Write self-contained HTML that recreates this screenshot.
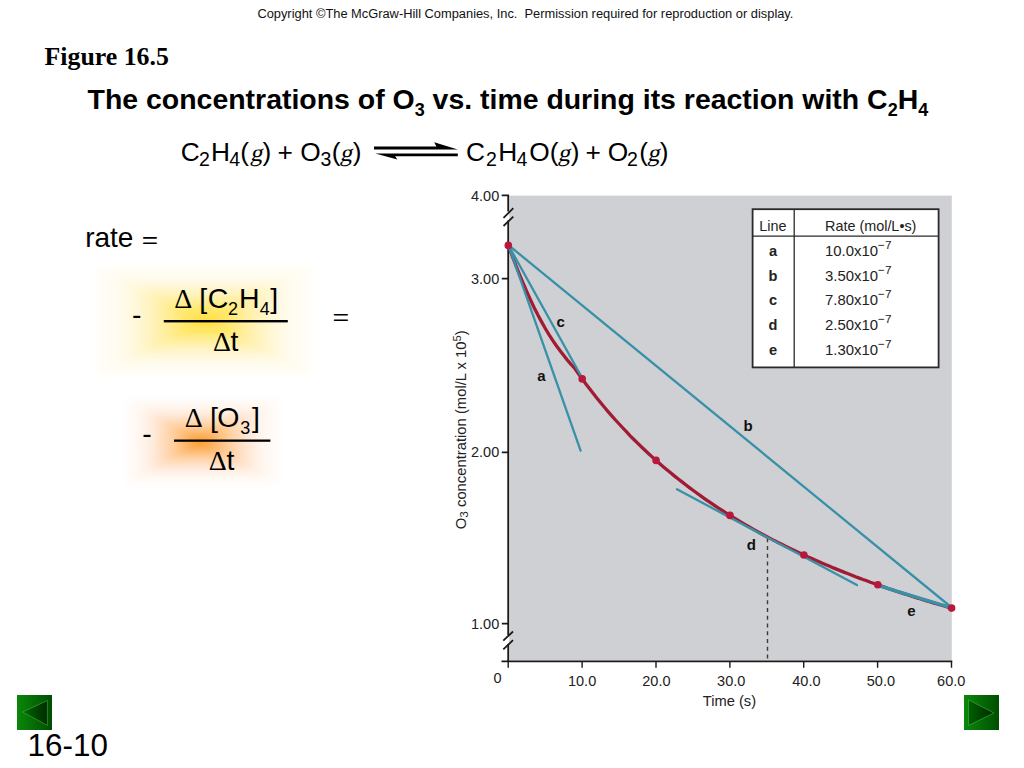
<!DOCTYPE html>
<html><head><meta charset="utf-8">
<style>
html,body{margin:0;padding:0;background:#fff;}
body{width:1024px;height:768px;position:relative;overflow:hidden;}
svg{position:absolute;left:0;top:0;}
.glow{position:absolute;}
</style></head><body>
<svg width="1024" height="768" viewBox="0 0 1024 768" font-family="Liberation Sans, Arial, sans-serif">
<defs>
<linearGradient id="bg" x1="0" y1="0" x2="1" y2="0"><stop offset="0" stop-color="#0a880a"/><stop offset="1" stop-color="#004e00"/></linearGradient>
<linearGradient id="tl" x1="0" y1="0" x2="1" y2="0"><stop offset="0" stop-color="#006a00"/><stop offset="1" stop-color="#002a00"/></linearGradient>
<linearGradient id="tr" x1="0" y1="0" x2="1" y2="0"><stop offset="0" stop-color="#006000"/><stop offset="1" stop-color="#002800"/></linearGradient>
<filter id="gb" x="-30%" y="-30%" width="160%" height="160%"><feGaussianBlur stdDeviation="3.5"/></filter>
</defs>
<g filter="url(#gb)" fill="#ffd814">
<rect x="96.5" y="266.5" width="215.0" height="108.0" fill-opacity="0.040"/>
<rect x="101.1" y="268.8" width="206.0" height="103.5" fill-opacity="0.004"/>
<rect x="105.6" y="271.0" width="197.1" height="99.0" fill-opacity="0.009"/>
<rect x="110.2" y="273.3" width="188.1" height="94.5" fill-opacity="0.013"/>
<rect x="114.8" y="275.6" width="179.2" height="90.0" fill-opacity="0.017"/>
<rect x="119.3" y="277.9" width="170.2" height="85.5" fill-opacity="0.021"/>
<rect x="123.9" y="280.1" width="161.2" height="81.0" fill-opacity="0.025"/>
<rect x="128.4" y="282.4" width="152.3" height="76.5" fill-opacity="0.028"/>
<rect x="133.0" y="284.7" width="143.3" height="72.0" fill-opacity="0.032"/>
<rect x="137.6" y="286.9" width="134.4" height="67.5" fill-opacity="0.037"/>
<rect x="142.1" y="289.2" width="125.4" height="63.0" fill-opacity="0.041"/>
<rect x="146.7" y="291.5" width="116.5" height="58.5" fill-opacity="0.046"/>
<rect x="151.2" y="293.8" width="107.5" height="54.0" fill-opacity="0.051"/>
<rect x="155.8" y="296.0" width="98.5" height="49.5" fill-opacity="0.057"/>
<rect x="160.4" y="298.3" width="89.6" height="45.0" fill-opacity="0.064"/>
<rect x="164.9" y="300.6" width="80.6" height="40.5" fill-opacity="0.072"/>
<rect x="169.5" y="302.8" width="71.7" height="36.0" fill-opacity="0.081"/>
<rect x="174.1" y="305.1" width="62.7" height="31.5" fill-opacity="0.093"/>
<rect x="178.6" y="307.4" width="53.8" height="27.0" fill-opacity="0.106"/>
<rect x="183.2" y="309.6" width="44.8" height="22.5" fill-opacity="0.124"/>
<rect x="187.8" y="311.9" width="35.8" height="18.0" fill-opacity="0.146"/>
<rect x="192.3" y="314.2" width="26.9" height="13.5" fill-opacity="0.177"/>
<rect x="196.9" y="316.5" width="17.9" height="9.0" fill-opacity="0.223"/>
<rect x="201.4" y="318.7" width="9.0" height="4.5" fill-opacity="0.296"/>
</g>
<g filter="url(#gb)" fill="#f98a0c">
<rect x="127.5" y="399.5" width="150.0" height="83.0" fill-opacity="0.040"/>
<rect x="130.5" y="401.3" width="143.8" height="79.5" fill-opacity="0.004"/>
<rect x="133.5" y="403.0" width="137.5" height="76.1" fill-opacity="0.009"/>
<rect x="136.6" y="404.8" width="131.2" height="72.6" fill-opacity="0.013"/>
<rect x="139.6" y="406.6" width="125.0" height="69.2" fill-opacity="0.017"/>
<rect x="142.6" y="408.4" width="118.8" height="65.7" fill-opacity="0.021"/>
<rect x="145.6" y="410.1" width="112.5" height="62.2" fill-opacity="0.025"/>
<rect x="148.6" y="411.9" width="106.2" height="58.8" fill-opacity="0.028"/>
<rect x="151.7" y="413.7" width="100.0" height="55.3" fill-opacity="0.032"/>
<rect x="154.7" y="415.4" width="93.8" height="51.9" fill-opacity="0.037"/>
<rect x="157.7" y="417.2" width="87.5" height="48.4" fill-opacity="0.041"/>
<rect x="160.7" y="419.0" width="81.3" height="45.0" fill-opacity="0.046"/>
<rect x="163.8" y="420.8" width="75.0" height="41.5" fill-opacity="0.051"/>
<rect x="166.8" y="422.5" width="68.8" height="38.0" fill-opacity="0.057"/>
<rect x="169.8" y="424.3" width="62.5" height="34.6" fill-opacity="0.064"/>
<rect x="172.8" y="426.1" width="56.2" height="31.1" fill-opacity="0.072"/>
<rect x="175.8" y="427.8" width="50.0" height="27.7" fill-opacity="0.081"/>
<rect x="178.9" y="429.6" width="43.8" height="24.2" fill-opacity="0.093"/>
<rect x="181.9" y="431.4" width="37.5" height="20.8" fill-opacity="0.106"/>
<rect x="184.9" y="433.1" width="31.2" height="17.3" fill-opacity="0.124"/>
<rect x="187.9" y="434.9" width="25.0" height="13.8" fill-opacity="0.146"/>
<rect x="190.9" y="436.7" width="18.8" height="10.4" fill-opacity="0.177"/>
<rect x="194.0" y="438.5" width="12.5" height="6.9" fill-opacity="0.223"/>
<rect x="197.0" y="440.2" width="6.2" height="3.5" fill-opacity="0.296"/>
</g>

<text x="257.4" y="17.7" font-size="12.85" fill="#111">Copyright ©The McGraw-Hill Companies, Inc.&#160; Permission required for reproduction or display.</text>
<text x="44.6" y="64.5" font-size="25.8" font-weight="bold" font-family="Liberation Serif, serif">Figure 16.5</text>
<text x="87.6" y="109.2" font-size="28.45" font-weight="bold">The concentrations of O<tspan font-size="18" dy="6.8">3</tspan><tspan dy="-6.8"> vs. time during its reaction with C</tspan><tspan font-size="18" dy="6.8">2</tspan><tspan dy="-6.8">H</tspan><tspan font-size="18" dy="6.8">4</tspan></text>

<g id="eq">
<text x="180.66" y="160.90" font-size="26.30">C</text>
<text x="199.02" y="166.20" font-size="19.50">2</text>
<text x="210.94" y="160.90" font-size="26.30">H</text>
<text x="229.35" y="166.20" font-size="19.50">4</text>
<text x="240.27" y="160.90" font-size="26.30">(</text>
<text transform="translate(249.91 160.90) skewX(-12)" font-size="24.50" font-family="Liberation Serif, serif">g</text>
<text x="262.45" y="160.90" font-size="26.30">)</text>
<text x="277.42" y="160.90" font-size="26.30">+</text>
<text x="300.35" y="160.90" font-size="26.30">O</text>
<text x="320.46" y="166.20" font-size="19.50">3</text>
<text x="331.67" y="160.90" font-size="26.30">(</text>
<text transform="translate(339.81 160.90) skewX(-12)" font-size="24.50" font-family="Liberation Serif, serif">g</text>
<text x="352.65" y="160.90" font-size="26.30">)</text>
<text x="465.96" y="160.90" font-size="26.30">C</text>
<text x="485.92" y="166.20" font-size="19.50">2</text>
<text x="498.14" y="160.90" font-size="26.30">H</text>
<text x="516.45" y="166.20" font-size="19.50">4</text>
<text x="529.15" y="160.90" font-size="26.30">O</text>
<text x="549.67" y="160.90" font-size="26.30">(</text>
<text transform="translate(557.81 160.90) skewX(-12)" font-size="24.50" font-family="Liberation Serif, serif">g</text>
<text x="570.85" y="160.90" font-size="26.30">)</text>
<text x="585.52" y="160.90" font-size="26.30">+</text>
<text x="607.75" y="160.90" font-size="26.30">O</text>
<text x="627.12" y="166.20" font-size="19.50">2</text>
<text x="639.17" y="160.90" font-size="26.30">(</text>
<text transform="translate(647.31 160.90) skewX(-12)" font-size="24.50" font-family="Liberation Serif, serif">g</text>
<text x="659.65" y="160.90" font-size="26.30">)</text>
</g>
<g id="arrows" fill="#000">
<path d="M374 146.6 H436.4 L434.2 142.2 L457.8 149.4 H374 Z"/>
<path d="M457.8 153.4 H375.2 L397.4 159.4 L395.1 156.3 H457.8 Z"/>
</g>

<text x="85.2" y="246.8" font-size="28">rate</text>

<g id="fr">
<text x="131.93" y="324.00" font-size="28.50">-</text>
<text x="174.13" y="307.50" font-size="28.00" font-family="Liberation Serif, serif">Δ</text>
<text x="199.17" y="308.00" font-size="28.50">[</text>
<text x="207.75" y="308.00" font-size="28.50">C</text>
<text x="227.99" y="314.70" font-size="18.00">2</text>
<text x="239.06" y="308.00" font-size="28.50">H</text>
<text x="259.79" y="314.70" font-size="18.00">4</text>
<text x="270.18" y="308.00" font-size="28.50">]</text>
<text x="212.93" y="350.80" font-size="28.00" font-family="Liberation Serif, serif">Δ</text>
<text x="230.57" y="350.80" font-size="28.50">t</text>
<text transform="translate(332.61 324.50) scale(1 0.750)" font-size="28.50">=</text>
<text transform="translate(141.73 248.30) scale(1 0.820)" font-size="28.00">=</text>
<text x="142.23" y="443.40" font-size="28.50">-</text>
<text x="184.83" y="427.00" font-size="28.00" font-family="Liberation Serif, serif">Δ</text>
<text x="209.97" y="427.00" font-size="28.50">[</text>
<text x="217.35" y="427.00" font-size="28.50">O</text>
<text x="240.21" y="433.80" font-size="18.00">3</text>
<text x="252.08" y="427.00" font-size="28.50">]</text>
<text x="208.73" y="469.80" font-size="28.00" font-family="Liberation Serif, serif">Δ</text>
<text x="226.57" y="469.80" font-size="28.50">t</text>
<rect x="163.8" y="320" width="124" height="2.4"/>
<rect x="174" y="439.5" width="96.4" height="2.3"/>
</g>

<!-- chart -->
<rect x="509.2" y="195.6" width="442.6" height="464.9" fill="#cfd0d3"/>
<g stroke="#1a1a1a" stroke-width="1.8" fill="none">
<path d="M501.7 195.3 H508.2 V211.5 M508.2 220.5 V635 M508.2 644 V661.4 M501.5 661.4 H952.3"/>
<path d="M503.5 217.8 L513.3 208.2 M503.5 226 L513.3 216.7 M503.3 640.7 L513 631.5 M503.3 649.4 L513 640.1"/>
<path d="M501.8 278.7 H508.2 M501.8 452.4 H508.2 M501.8 623.7 H508.2"/>
<path stroke-width="1.4" d="M508.2 661.4 V667.7 M582.1 661.4 V667.7 M656 661.4 V667.7 M729.9 661.4 V667.7 M803.7 661.4 V667.7 M877.6 661.4 V667.7 M951.5 661.4 V667.7"/>
</g>
<g font-size="14.5" fill="#222">
<text x="471" y="201.2">4.00</text>
<text x="471" y="283.8">3.00</text>
<text x="471" y="457.4">2.00</text>
<text x="471" y="628.8">1.00</text>
<text x="493.5" y="683.2">0</text>
<g text-anchor="middle">
<text x="582.1" y="686.2">10.0</text>
<text x="656.4" y="686.2">20.0</text>
<text x="731.2" y="686.2">30.0</text>
<text x="806.4" y="686.2">40.0</text>
<text x="880.9" y="686.2">50.0</text>
<text x="951.2" y="686.2">60.0</text>
</g>
<text x="702.8" y="706" font-size="14.7">Time (s)</text>
<text transform="translate(465.8 529.2) rotate(-90)" font-size="14.8">O<tspan font-size="11.8" dy="2.4">3</tspan><tspan dy="-2.4"> concentration (mol/L x 10</tspan><tspan font-size="11" dy="-5.2">5</tspan><tspan dy="5.2">)</tspan></text>
</g>

<!-- dashed -->
<path d="M767.5 538.2 V660" stroke="#3a3a3a" stroke-width="1.4" stroke-dasharray="4.1 3.65" fill="none"/>

<!-- lines -->
<path d="M508.3 245.4 L512.0 255.4 L515.7 265.0 L519.4 274.3 L523.1 283.2 L526.8 291.7 L530.5 299.9 L534.2 307.7 L537.9 315.0 L541.6 321.9 L545.3 328.5 L549.0 334.6 L552.7 340.4 L556.4 345.8 L560.1 350.8 L563.8 355.6 L567.4 360.1 L571.1 364.4 L574.8 368.5 L578.5 373.8 L582.2 378.9 L585.9 383.9 L589.6 388.8 L593.3 393.5 L597.0 398.2 L600.7 402.8 L604.4 407.2 L608.1 411.6 L611.8 415.8 L615.5 420.0 L619.2 424.0 L622.9 428.0 L626.6 431.9 L630.2 435.8 L633.9 439.5 L637.6 443.2 L641.3 446.8 L645.0 450.3 L648.7 453.7 L652.4 457.1 L656.1 460.4 L659.8 463.7 L663.5 466.9 L667.2 470.0 L670.9 473.1 L674.6 476.1 L678.3 479.0 L682.0 481.9 L685.7 484.8 L689.4 487.6 L693.0 490.3 L696.7 493.0 L700.4 495.7 L704.1 498.3 L707.8 500.9 L711.5 503.4 L715.2 505.9 L718.9 508.3 L722.6 510.7 L726.3 513.1 L730.0 515.4 L733.7 517.7 L737.4 519.9 L741.1 522.1 L744.8 524.3 L748.5 526.5 L752.2 528.6 L755.8 530.6 L759.5 532.7 L763.2 534.7 L766.9 536.7 L770.6 538.6 L774.3 540.6 L778.0 542.4 L781.7 544.3 L785.4 546.2 L789.1 548.0 L792.8 549.8 L796.5 551.5 L800.2 553.3 L803.9 555.0 L807.6 556.7 L811.3 558.3 L815.0 560.0 L818.6 561.6 L822.3 563.2 L826.0 564.8 L829.7 566.3 L833.4 567.9 L837.1 569.4 L840.8 570.9 L844.5 572.4 L848.2 573.8 L851.9 575.2 L855.6 576.7 L859.3 578.1 L863.0 579.5 L866.7 580.8 L870.4 582.2 L874.1 583.5 L877.8 584.8 L881.4 586.1 L885.1 587.4 L888.8 588.7 L892.5 589.9 L896.2 591.2 L899.9 592.4 L903.6 593.6 L907.3 594.8 L911.0 596.0 L914.7 597.2 L918.4 598.3 L922.1 599.5 L925.8 600.6 L929.5 601.7 L933.2 602.8 L936.9 603.9 L940.5 605.0 L944.2 606.0 L947.9 607.1 L951.6 608.1" stroke="#a01b34" stroke-width="3.3" fill="none"/>
<g stroke="#3891a8" stroke-width="2.3" fill="none" stroke-linecap="round">
<path d="M508.3 245 L580.6 450.7"/>
<path d="M508.3 245 L582.6 378.8"/>
<path d="M508.3 245 L951.6 607.5"/>
<path d="M677 489.3 L856.9 585.1"/>
</g>
<path d="M877.7 585.3 L951.6 607.8" stroke="#3891a8" stroke-width="3.4" fill="none"/>
<g fill="#b8183a"><circle cx="508.3" cy="245.4" r="3.8"/><circle cx="582.2" cy="378.9" r="3.8"/><circle cx="656.1" cy="460.4" r="3.8"/><circle cx="730.0" cy="515.4" r="3.8"/><circle cx="803.9" cy="555.0" r="3.8"/><circle cx="877.8" cy="584.8" r="3.8"/><circle cx="951.6" cy="608.1" r="3.8"/></g>

<g font-size="15" font-weight="bold" fill="#111" text-anchor="middle">
<text x="541.4" y="380.8">a</text>
<text x="748" y="431.1">b</text>
<text x="560.7" y="327.3">c</text>
<text x="751.4" y="549.9">d</text>
<text x="911.4" y="615.6">e</text>
</g>

<!-- table -->
<rect x="752.6" y="209.2" width="186" height="158.2" fill="#fff" stroke="#2a2a2a" stroke-width="1.8"/>
<path d="M752.6 236.2 H938.6 M794.2 209.2 V367.4" stroke="#2a2a2a" stroke-width="1.3"/>
<g font-size="14.4" fill="#222">
<text x="759.3" y="230.6">Line</text>
<text x="825" y="230.6">Rate (mol/L•s)</text>
<g font-weight="bold" text-anchor="middle" font-size="14.6">
<text x="773" y="256">a</text>
<text x="773" y="280.6">b</text>
<text x="773" y="305.3">c</text>
<text x="773" y="330.1">d</text>
<text x="773" y="355">e</text>
</g>
<text x="825" y="256" font-size="14.9">10.0x10<tspan font-size="11.8" dy="-7">−7</tspan></text>
<text x="825" y="280.6" font-size="14.9">3.50x10<tspan font-size="11.8" dy="-7">−7</tspan></text>
<text x="825" y="305.3" font-size="14.9">7.80x10<tspan font-size="11.8" dy="-7">−7</tspan></text>
<text x="825" y="330.1" font-size="14.9">2.50x10<tspan font-size="11.8" dy="-7">−7</tspan></text>
<text x="825" y="355" font-size="14.9">1.30x10<tspan font-size="11.8" dy="-7">−7</tspan></text>
</g>

<!-- nav buttons -->
<g transform="translate(17 695)">
<rect width="35" height="35" fill="url(#bg)"/>
<path d="M5.5 17 L30.4 5.5 L30.4 30.4 Z" fill="url(#tl)" stroke="#46b046" stroke-width="0.6"/>
</g>
<g transform="translate(964 695)">
<rect width="35" height="35" fill="url(#bg)"/>
<path d="M4.5 4.8 L30 18 L4.5 30.5 Z" fill="url(#tr)" stroke="#46b046" stroke-width="0.6"/>
</g>

<text x="27.6" y="755.8" font-size="31.4">16-10</text>
</svg>
</body></html>
